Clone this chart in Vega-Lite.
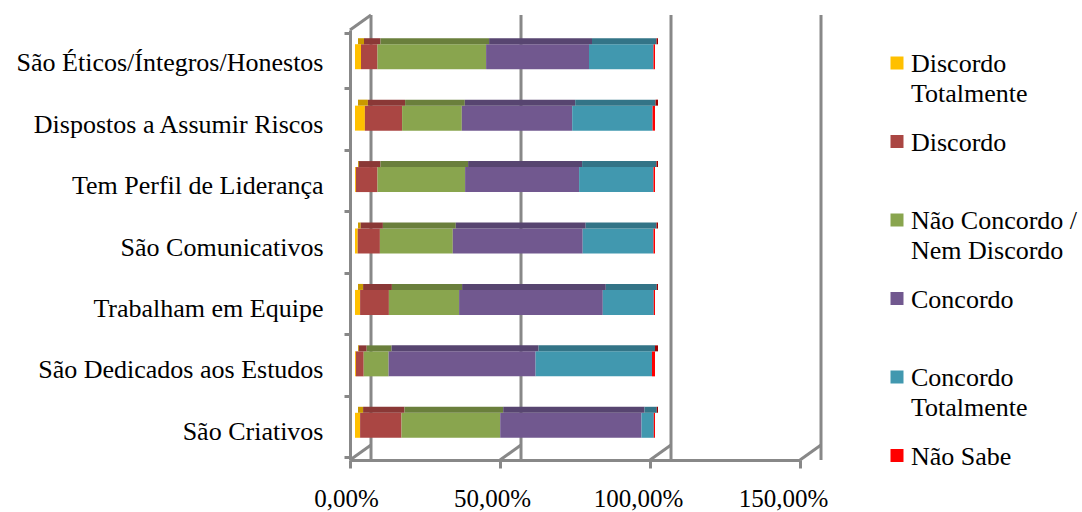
{
  "$schema": "https://vega.github.io/schema/vega-lite/v6.json",
  "autosize": {"type": "none"},
  "width": 450,
  "height": 430,
  "padding": {"left": 350, "top": 30, "right": 282, "bottom": 52},
  "background": "white",
  "config": {"view": {"stroke": null}, "font": "Liberation Serif"},
  "datasets": {
    "grade": [{"v": 0}, {"v": 0.5}, {"v": 1}, {"v": 1.5}],
    "respostas": [
      {"cat": "São Éticos/Íntegros/Honestos", "resp": "Discordo Totalmente", "v": 0.020},
      {"cat": "São Éticos/Íntegros/Honestos", "resp": "Discordo", "v": 0.055},
      {"cat": "São Éticos/Íntegros/Honestos", "resp": "Não Concordo / Nem Discordo", "v": 0.362},
      {"cat": "São Éticos/Íntegros/Honestos", "resp": "Concordo", "v": 0.343},
      {"cat": "São Éticos/Íntegros/Honestos", "resp": "Concordo Totalmente", "v": 0.215},
      {"cat": "São Éticos/Íntegros/Honestos", "resp": "Não Sabe", "v": 0.005},
      {"cat": "Dispostos a Assumir Riscos", "resp": "Discordo Totalmente", "v": 0.033},
      {"cat": "Dispostos a Assumir Riscos", "resp": "Discordo", "v": 0.124},
      {"cat": "Dispostos a Assumir Riscos", "resp": "Não Concordo / Nem Discordo", "v": 0.199},
      {"cat": "Dispostos a Assumir Riscos", "resp": "Concordo", "v": 0.368},
      {"cat": "Dispostos a Assumir Riscos", "resp": "Concordo Totalmente", "v": 0.268},
      {"cat": "Dispostos a Assumir Riscos", "resp": "Não Sabe", "v": 0.008},
      {"cat": "Tem Perfil de Liderança", "resp": "Discordo Totalmente", "v": 0.003},
      {"cat": "Tem Perfil de Liderança", "resp": "Discordo", "v": 0.072},
      {"cat": "Tem Perfil de Liderança", "resp": "Não Concordo / Nem Discordo", "v": 0.292},
      {"cat": "Tem Perfil de Liderança", "resp": "Concordo", "v": 0.380},
      {"cat": "Tem Perfil de Liderança", "resp": "Concordo Totalmente", "v": 0.248},
      {"cat": "Tem Perfil de Liderança", "resp": "Não Sabe", "v": 0.005},
      {"cat": "São Comunicativos", "resp": "Discordo Totalmente", "v": 0.009},
      {"cat": "São Comunicativos", "resp": "Discordo", "v": 0.074},
      {"cat": "São Comunicativos", "resp": "Não Concordo / Nem Discordo", "v": 0.243},
      {"cat": "São Comunicativos", "resp": "Concordo", "v": 0.433},
      {"cat": "São Comunicativos", "resp": "Concordo Totalmente", "v": 0.236},
      {"cat": "São Comunicativos", "resp": "Não Sabe", "v": 0.005},
      {"cat": "Trabalham em Equipe", "resp": "Discordo Totalmente", "v": 0.017},
      {"cat": "Trabalham em Equipe", "resp": "Discordo", "v": 0.096},
      {"cat": "Trabalham em Equipe", "resp": "Não Concordo / Nem Discordo", "v": 0.234},
      {"cat": "Trabalham em Equipe", "resp": "Concordo", "v": 0.479},
      {"cat": "Trabalham em Equipe", "resp": "Concordo Totalmente", "v": 0.170},
      {"cat": "Trabalham em Equipe", "resp": "Não Sabe", "v": 0.004},
      {"cat": "São Dedicados aos Estudos", "resp": "Discordo Totalmente", "v": 0.003},
      {"cat": "São Dedicados aos Estudos", "resp": "Discordo", "v": 0.026},
      {"cat": "São Dedicados aos Estudos", "resp": "Não Concordo / Nem Discordo", "v": 0.083},
      {"cat": "São Dedicados aos Estudos", "resp": "Concordo", "v": 0.490},
      {"cat": "São Dedicados aos Estudos", "resp": "Concordo Totalmente", "v": 0.388},
      {"cat": "São Dedicados aos Estudos", "resp": "Não Sabe", "v": 0.010},
      {"cat": "São Criativos", "resp": "Discordo Totalmente", "v": 0.017},
      {"cat": "São Criativos", "resp": "Discordo", "v": 0.138},
      {"cat": "São Criativos", "resp": "Não Concordo / Nem Discordo", "v": 0.329},
      {"cat": "São Criativos", "resp": "Concordo", "v": 0.471},
      {"cat": "São Criativos", "resp": "Concordo Totalmente", "v": 0.041},
      {"cat": "São Criativos", "resp": "Não Sabe", "v": 0.004}
    ]
  },
  "layer": [
    {
      "data": {"name": "grade"},
      "mark": {"type": "rule", "color": "#888888", "strokeWidth": 3, "xOffset": 21, "x2Offset": 21, "yOffset": -15, "y2Offset": -15},
      "encoding": {
        "x": {"field": "v", "type": "quantitative", "scale": {"domain": [0, 1.5], "nice": false}}
      }
    },
    {
      "data": {"name": "grade"},
      "mark": {"type": "rule", "color": "#888888", "strokeWidth": 3, "x2Offset": 21, "y2Offset": -15},
      "encoding": {
        "x": {"field": "v", "type": "quantitative"},
        "x2": {"field": "v"},
        "y": {"value": "height"},
        "y2": {"value": "height"}
      }
    },
    {
      "data": {"name": "grade"},
      "transform": [{"filter": "datum.v == 0"}],
      "mark": {"type": "rule", "color": "#888888", "strokeWidth": 3, "x2Offset": 21, "y2Offset": -15},
      "encoding": {
        "x": {"field": "v", "type": "quantitative"},
        "x2": {"field": "v"},
        "y": {"value": 0},
        "y2": {"value": 0}
      }
    },
    {
      "data": {"name": "respostas"},
      "transform": [{"calculate": "indexof(['Discordo Totalmente', 'Discordo', 'Não Concordo / Nem Discordo', 'Concordo', 'Concordo Totalmente', 'Não Sabe'], datum.resp)", "as": "ordem"}],
      "mark": {"type": "bar", "size": 25, "xOffset": 5, "x2Offset": 5, "yOffset": -4},
      "encoding": {
        "y": {
          "field": "cat", "type": "nominal",
          "sort": ["São Éticos/Íntegros/Honestos", "Dispostos a Assumir Riscos", "Tem Perfil de Liderança", "São Comunicativos", "Trabalham em Equipe", "São Dedicados aos Estudos", "São Criativos"],
          "axis": {"title": null, "tickBand": "extent", "ticks": true, "tickSize": 6, "tickColor": "#888888", "tickWidth": 3, "domainColor": "#888888", "domainWidth": 3, "labelFont": "Liberation Serif", "labelFontSize": 26, "labelColor": "#000000", "labelPadding": 21, "labelOffset": 2, "labelLimit": 500}
        },
        "x": {
          "field": "v", "type": "quantitative", "stack": "zero",
          "scale": {"domain": [0, 1.5], "nice": false},
          "axis": {"title": null, "values": [0, 0.5, 1, 1.5], "grid": false, "labelExpr": "replace(format(datum.value, '.2%'), '.', ',')", "labelFont": "Liberation Serif", "labelFontSize": 25, "labelColor": "#000000", "tickSize": 8, "tickColor": "#888888", "tickWidth": 3, "domainColor": "#888888", "domainWidth": 3, "labelPadding": 18, "labelFlush": false,
            "labelOffset": {"condition": [{"test": "datum.value == 0", "value": -4}, {"test": "datum.value == 0.5", "value": -8}, {"test": "datum.value == 1", "value": -12}], "value": -17}}
        },
        "order": {"field": "ordem", "type": "quantitative"},
        "color": {
          "field": "resp", "type": "nominal",
          "scale": {"domain": ["Discordo Totalmente", "Discordo", "Não Concordo / Nem Discordo", "Concordo", "Concordo Totalmente", "Não Sabe"], "range": ["#FFC000", "#AA4643", "#89A54E", "#71588F", "#4198AF", "#FF0000"]},
          "legend": {
            "title": null, "orient": "none", "legendX": 534, "legendY": 20, "padding": 0,
            "gridAlign": "all", "rowPadding": 21.5,
            "symbolType": "square", "symbolSize": 169, "symbolStrokeWidth": 0, "symbolOpacity": 1,
            "labelFont": "Liberation Serif", "labelFontSize": 26, "labelColor": "#000000", "labelOffset": 1, "labelLimit": 0, "labelBaseline": "alphabetic",
            "labelExpr": "datum.label == 'Discordo Totalmente' ? ['Discordo', 'Totalmente'] : datum.label == 'Não Concordo / Nem Discordo' ? ['Não Concordo /', 'Nem Discordo'] : datum.label == 'Concordo Totalmente' ? ['Concordo', 'Totalmente'] : datum.label",
            "encode": {"labels": {"update": {"lineHeight": {"value": 30}, "dy": {"value": 9}}}}
          }
        }
      }
    },
    {
      "data": {"name": "respostas"},
      "transform": [{"calculate": "indexof(['Discordo Totalmente', 'Discordo', 'Não Concordo / Nem Discordo', 'Concordo', 'Concordo Totalmente', 'Não Sabe'], datum.resp)", "as": "ordem"}],
      "mark": {"type": "bar", "size": 6, "xOffset": 8, "x2Offset": 8, "yOffset": -19.5},
      "encoding": {
        "y": {"field": "cat", "type": "nominal", "sort": ["São Éticos/Íntegros/Honestos", "Dispostos a Assumir Riscos", "Tem Perfil de Liderança", "São Comunicativos", "Trabalham em Equipe", "São Dedicados aos Estudos", "São Criativos"]},
        "x": {"field": "v", "type": "quantitative", "stack": "zero"},
        "order": {"field": "ordem", "type": "quantitative"},
        "color": {
          "field": "resp", "type": "nominal",
          "scale": {"domain": ["Discordo Totalmente", "Discordo", "Não Concordo / Nem Discordo", "Concordo", "Concordo Totalmente", "Não Sabe"], "range": ["#C99A00", "#8A3836", "#6A7F3C", "#574570", "#337487", "#A00000"]},
          "legend": null
        }
      }
    }
  ],
  "resolve": {"scale": {"color": "independent"}}
}
